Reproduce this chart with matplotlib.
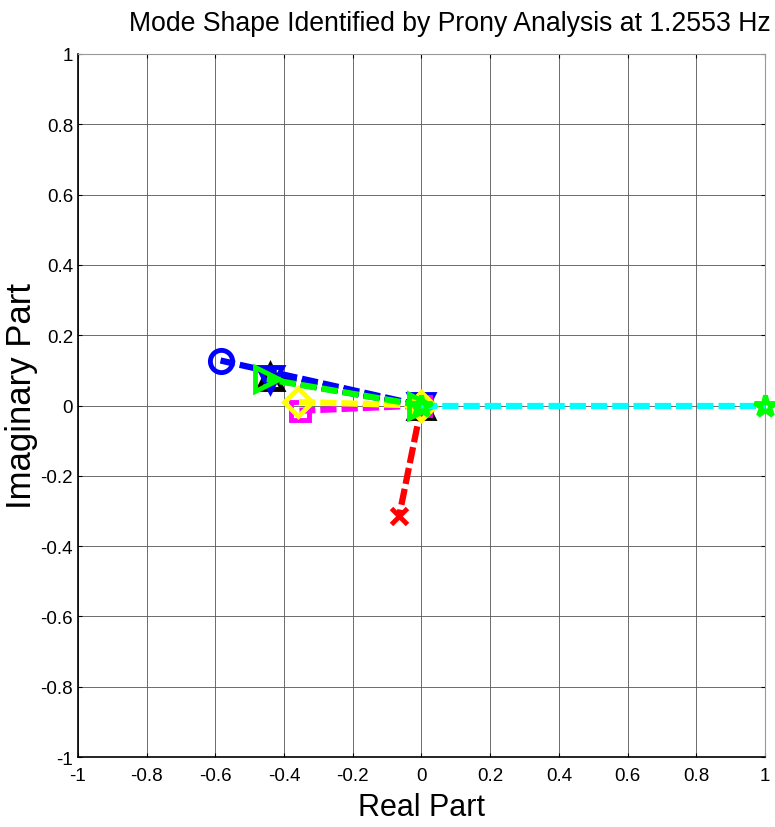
"""
Mode shape (Prony) compass-style plot, MATLAB look.
"""
import matplotlib
matplotlib.use("Agg")
import matplotlib.pyplot as plt

# mode shape points (real, imag) per channel
real_parts = [-0.065, -0.44, -0.44, -0.585, -0.355, -0.36, -0.45, 1.0]
imag_parts = [-0.315, 0.082, 0.075, 0.128, -0.015, 0.01, 0.075, 0.0]
line_colors = ["red", "black", "blue", "blue", "magenta", "yellow", "#00ff00", "cyan"]
marker_colors = ["red", "black", "blue", "blue", "magenta", "yellow", "#00ff00", "#00ff00"]
markers = ["x", "^", "v", "o", "s", "D", ">", "*"]
marker_sizes = [12, 17, 17, 16, 13, 14, 17, 16]

ticks = [-1, -0.8, -0.6, -0.4, -0.2, 0, 0.2, 0.4, 0.6, 0.8, 1]
tick_labels = ["-1", "-0.8", "-0.6", "-0.4", "-0.2", "0", "0.2", "0.4", "0.6", "0.8", "1"]

FONT = "Liberation Sans"

fig = plt.figure(figsize=(7.75, 8.28), dpi=100)
ax = fig.add_axes([0.1006, 0.0845, 0.8864, 0.8491])

for x, y, lc, mc, m, ms in zip(real_parts, imag_parts, line_colors,
                               marker_colors, markers, marker_sizes):
    ax.plot([0, x], [0, y], "--", color=lc, linewidth=4.5, dashes=(2.6, 0.8),
            marker=m, markersize=ms, markerfacecolor="none",
            markeredgecolor=mc, markeredgewidth=3.5, clip_on=False, zorder=3)

ax.set_xlim(-1, 1)
ax.set_ylim(-1, 1)
ax.set_xticks(ticks)
ax.set_yticks(ticks)
ax.set_xticklabels(tick_labels, fontfamily=FONT, fontsize=13.5)
ax.set_yticklabels(tick_labels, fontfamily=FONT, fontsize=13.5)
ax.tick_params(direction="in", length=3, width=0.8, top=True, right=True)
ax.tick_params(axis="x", pad=7)
ax.grid(True, color="#555555", linewidth=0.6)
for side in ["top", "right"]:
    ax.spines[side].set_color("#999999")
for side in ["left", "bottom"]:
    ax.spines[side].set_color("black")
    ax.spines[side].set_linewidth(1.2)

fig.text(450 / 775, 1 - 24 / 828, "Mode Shape Identified by Prony Analysis at 1.2553 Hz",
         fontfamily=FONT, fontsize=19.2, ha="center", va="center")
ax.set_xlabel("Real Part", fontfamily=FONT, fontsize=22, labelpad=6)
ax.set_ylabel("Imaginary Part", fontfamily=FONT, fontsize=25, va="center")
ax.yaxis.set_label_coords(-0.082, 0.515)

fig.savefig("out.png", dpi=100)
